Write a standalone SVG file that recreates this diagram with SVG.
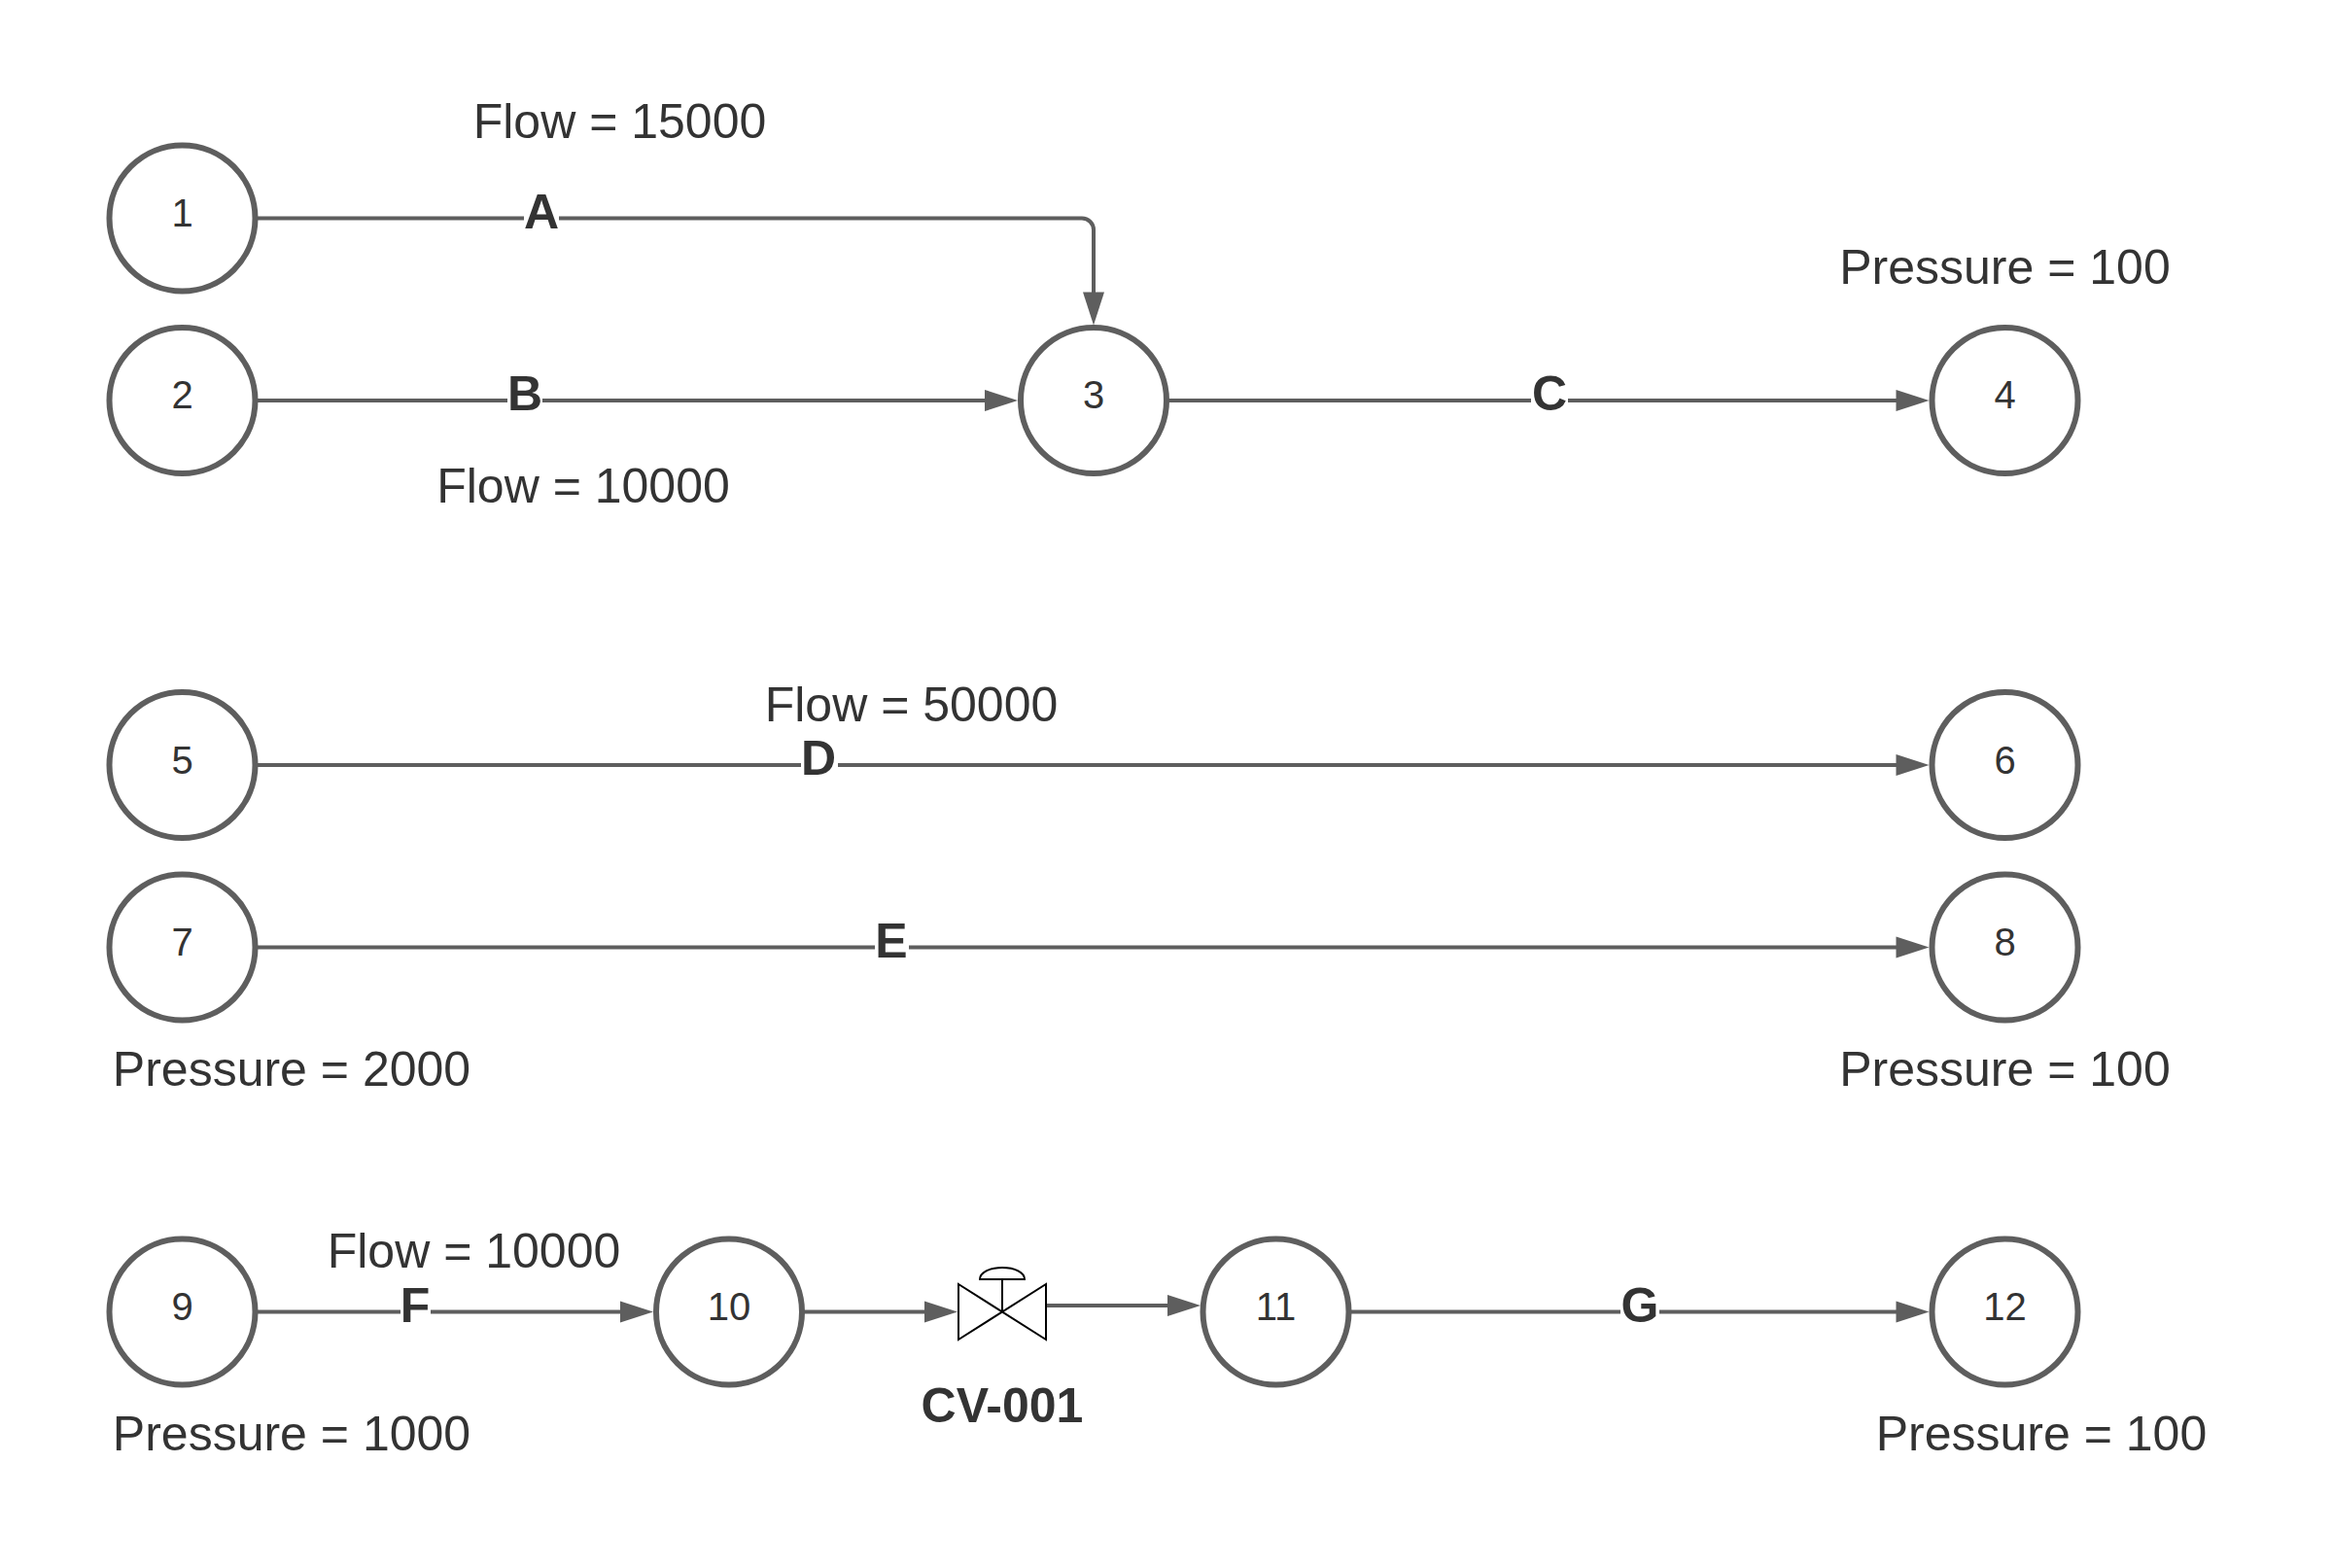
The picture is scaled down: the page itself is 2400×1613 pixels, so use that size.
<svg xmlns="http://www.w3.org/2000/svg" width="2400" height="1613" viewBox="0 0 2400 1613">
<style>
text{font-family:"Liberation Sans",Arial,sans-serif;fill:#333;text-anchor:middle}
.n{font-size:40px}
.t{font-size:50px}
.b{font-size:50px;font-weight:bold}
.node circle{fill:#fff;stroke:#5e5e5e;stroke-width:6}
.c{fill:none;stroke:#5e5e5e;stroke-width:4}
.h{fill:#5e5e5e;stroke:none}
.v{fill:#fff;stroke:#000;stroke-width:2}
.g{fill:#fff}
</style>
<rect width="2400" height="1613" fill="#fff"/>
<g id="connectors">
<path class="c" d="M263 224.500H1113a12 12 0 0 1 12 12V302"/><path class="h" d="M1125 334.500l-11 -34h22z"/>
<path class="c" d="M263 412H1015"/><path class="h" d="M1047 412l-34 -11v22z"/>
<path class="c" d="M1200 412H1952"/><path class="h" d="M1984.500 412l-34 -11v22z"/>
<path class="c" d="M263 787H1952"/><path class="h" d="M1984.500 787l-34 -11v22z"/>
<path class="c" d="M263 974.500H1952"/><path class="h" d="M1984.500 974.500l-34 -11v22z"/>
<path class="c" d="M263 1349.500H640"/><path class="h" d="M672 1349.500l-34 -11v22z"/>
<path class="c" d="M825 1349.500H953"/><path class="h" d="M985 1349.500l-34 -11v22z"/>
<path class="c" d="M1076 1343H1202"/><path class="h" d="M1235 1343l-34 -11v22z"/>
<path class="c" d="M1387 1349.500H1952"/><path class="h" d="M1984.500 1349.500l-34 -11v22z"/>
</g>
<g id="node1" class="node"><circle cx="187.500" cy="224.500" r="75"/><text class="n" x="187.500" y="233">1</text></g>
<g id="node2" class="node"><circle cx="187.500" cy="412" r="75"/><text class="n" x="187.500" y="420">2</text></g>
<g id="node3" class="node"><circle cx="1125" cy="412" r="75"/><text class="n" x="1125" y="420">3</text></g>
<g id="node4" class="node"><circle cx="2062.500" cy="412" r="75"/><text class="n" x="2062.500" y="420">4</text></g>
<g id="node5" class="node"><circle cx="187.500" cy="787" r="75"/><text class="n" x="187.500" y="796">5</text></g>
<g id="node6" class="node"><circle cx="2062.500" cy="787" r="75"/><text class="n" x="2062.500" y="796">6</text></g>
<g id="node7" class="node"><circle cx="187.500" cy="974.500" r="75"/><text class="n" x="187.500" y="983">7</text></g>
<g id="node8" class="node"><circle cx="2062.500" cy="974.500" r="75"/><text class="n" x="2062.500" y="983">8</text></g>
<g id="node9" class="node"><circle cx="187.500" cy="1349.500" r="75"/><text class="n" x="187.500" y="1358">9</text></g>
<g id="node10" class="node"><circle cx="750" cy="1349.500" r="75"/><text class="n" x="750" y="1358">10</text></g>
<g id="node11" class="node"><circle cx="1312.500" cy="1349.500" r="75"/><text class="n" x="1312.500" y="1358">11</text></g>
<g id="node12" class="node"><circle cx="2062.500" cy="1349.500" r="75"/><text class="n" x="2062.500" y="1358">12</text></g>
<g id="valve">
<path class="v" d="M986 1321L1076 1378V1321L986 1378Z"/>
<path class="v" d="M1031 1349.500V1316"/>
<path class="v" d="M1008 1316H1054C1054 1309 1044 1304 1031 1304C1018 1304 1008 1309 1008 1316Z"/>
</g>
<g id="edge-labels">
<rect class="g" x="539" y="210" width="36" height="30"/><text class="b" x="557" y="235">A</text>
<rect class="g" x="522" y="398" width="36" height="30"/><text class="b" x="540" y="422">B</text>
<rect class="g" x="1575" y="398" width="38" height="30"/><text class="b" x="1594" y="422">C</text>
<rect class="g" x="824" y="773" width="38" height="30"/><text class="b" x="842" y="797">D</text>
<rect class="g" x="900" y="960" width="35" height="30"/><text class="b" x="917" y="985">E</text>
<rect class="g" x="412" y="1335" width="31" height="30"/><text class="b" x="427" y="1360">F</text>
<rect class="g" x="1667" y="1335" width="40" height="30"/><text class="b" x="1687" y="1360">G</text>
</g>
<g id="annotations">
<text class="t" x="637.500" y="142">Flow = 15000</text>
<text class="t" x="600" y="517">Flow = 10000</text>
<text class="t" x="937.500" y="742">Flow = 50000</text>
<text class="t" x="487.500" y="1304">Flow = 10000</text>
<text class="t" x="2062.500" y="292">Pressure = 100</text>
<text class="t" x="300" y="1117">Pressure = 2000</text>
<text class="t" x="2062.500" y="1117">Pressure = 100</text>
<text class="t" x="300" y="1492">Pressure = 1000</text>
<text class="t" x="2100" y="1492">Pressure = 100</text>
<text class="b" x="1031" y="1463">CV-001</text>
</g>
</svg>
